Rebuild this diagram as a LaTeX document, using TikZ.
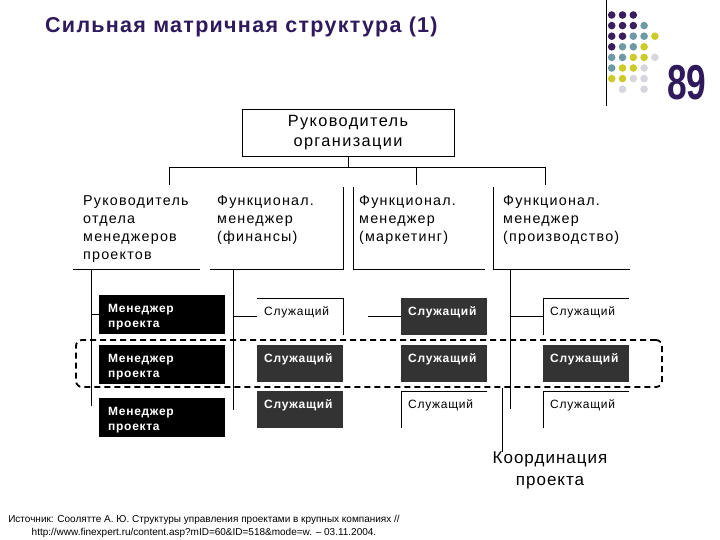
\documentclass[tikz,border=0pt]{standalone}
\usepackage{fontspec}
\usepackage{graphicx}
\setmainfont{Liberation Sans}
\newfontfamily\slidefont[LetterSpace=6]{Liberation Sans}
\newfontfamily\widefont[LetterSpace=8.5]{Liberation Sans}
\usetikzlibrary{positioning}

\definecolor{slideviolet}{HTML}{2E1A5C}
\definecolor{cellgrey}{HTML}{333333}
\definecolor{dotV}{HTML}{3A1E5E}
\definecolor{dotT}{HTML}{6E9AA8}
\definecolor{dotY}{HTML}{CDCB2A}
\definecolor{dotG}{HTML}{D6D6DE}
\definecolor{dotN}{HTML}{FFFFFF}

\tikzset{
		wire/.style     = {line width=0.8pt},
		headbox/.style  = {draw, line width=0.8pt, inner sep=0pt, align=center,
				minimum width=212pt, minimum height=47pt,
				font=\widefont\fontsize{16.3}{20}\selectfont},
		post/.style     = {anchor=north west, inner sep=0pt, align=left,
				font=\widefont\fontsize{14.3}{18.3}\selectfont},
		cell/.style     = {anchor=north west, inner sep=0pt,
				minimum width=86pt, minimum height=37pt},
		cellnote/.style = {anchor=north west, inner sep=0pt, align=left,
				xshift=7pt, yshift=-8.7pt,
				font=\slidefont\fontsize{12}{15}\selectfont},
		pm/.style       = {cell, fill=black, minimum width=126pt, minimum height=39pt,
				label={[cellnote, xshift=2pt, text=white,
						font=\slidefont\bfseries\fontsize{12}{15}\selectfont]north west:Менеджер\\проекта}},
		busy/.style     = {cell, fill=cellgrey,
				label={[cellnote, text=white,
						font=\slidefont\bfseries\fontsize{12}{15}\selectfont]north west:Служащий}},
		free/.style     = {cell, label={[cellnote]north west:Служащий}},
		focus/.style    = {draw, line width=1.8pt, dash pattern=on 6pt off 4pt,
				rounded corners=6pt, inner sep=0pt,
				minimum width=586pt, minimum height=47pt},
		note/.style     = {align=center, inner sep=0pt,
				font=\slidefont\fontsize{17}{22}\selectfont}
	}

\begin{document}
\begin{tikzpicture}[x=1pt, y=-1pt]
		\fill[white] (0,0) rectangle (720,540);
		\useasboundingbox (0,0) rectangle (720,540);

		% slide header
		\node[anchor=base west, inner sep=0pt, text=slideviolet,
			font=\slidefont\bfseries\fontsize{21.5}{24}\selectfont] (title) at (45,33) {Сильная матричная структура (1)};
		\draw[line width=0.9pt] (606,0) -- (606,106);
		\foreach \pat [count=\r from 0] in {{V,V,V,N,N},{V,V,V,T,N},{V,V,T,T,Y},{V,T,T,Y,N},
				{T,T,Y,Y,G},{T,Y,Y,G,N},{Y,Y,G,G,N},{N,G,N,G,N}}
			\foreach \c [count=\k from 0] in \pat
				\fill[dot\c] (611.7+10.8*\k, 15+10.6*\r) circle (3.8pt);
		\node[anchor=base west, inner sep=0pt, text=slideviolet] (pageno) at (667,100)
			{\scalebox{0.72}[1]{\fontsize{49}{49}\selectfont\bfseries 89}};

		% head and functional managers
		\node[headbox] (boss) at (348,132.5) {Руководитель\\организации};
		\node[post] (hd1) at (83,195) {Руководитель\\отдела\\менеджеров\\проектов};
		\node[post] (hd2) at (217,195) {Функционал.\\менеджер\\(финансы)};
		\node[post] (hd3) at (359,195) {Функционал.\\менеджер\\(маркетинг)};
		\node[post] (hd4) at (503,195) {Функционал.\\менеджер\\(производство)};

		\coordinate (bus) at (345,167);
		\coordinate (drop1) at (169,185);
		\coordinate (drop3) at (416,185);
		\coordinate (drop4) at (545,185);
		\draw[wire] (boss.south) -- (boss.south |- bus);
		\draw[wire] (drop1) -- (drop1 |- bus) -- (drop4 |- bus) -- (drop4);
		\draw[wire] (drop3) -- (drop3 |- bus);

		% column frames
		\draw[wire] (73,269) -- (200,269);
		\draw[wire] (210,269) -- (343,269) -- (343,187);
		\draw[wire] (353,187) -- (353,269) -- (485,269);
		\draw[wire] (493,187) -- (493,269) -- (630,269);

		% project managers and staff
		\node[pm] (pm1) at (99,295) {};
		\node[pm] (pm2) at (99,345) {};
		\node[pm] (pm3) at (99,398) {};

		\node[free] (e12) at (257,298) {};
		\node[busy] (e13) at (401,298) {};
		\node[free] (e14) at (543,298) {};
		\node[busy] (e22) at (257,345) {};
		\node[busy] (e23) at (401,345) {};
		\node[busy] (e24) at (543,345) {};
		\node[busy] (e32) at (257,391) {};
		\node[free] (e33) at (401,391) {};
		\node[free] (e34) at (543,391) {};

		\draw[wire] (e12.north west) -- (e12.north east) -- (e12.south east);
		\draw[wire] (e14.north east) -- (e14.north west) -- (e14.south west);
		\draw[wire] (e33.north east) -- (e33.north west) -- (e33.south west);
		\draw[wire] (e34.north east) -- (e34.north west) -- (e34.south west);

		\coordinate (spine1) at (91,269);
		\coordinate (spine2) at (233,269);
		\coordinate (spine4) at (510,269);
		\draw[wire] (spine1) -- ++(0,137);
		\draw[wire] (spine2) -- ++(0,141);
		\draw[wire] (spine4) -- ++(0,140);
		\draw[wire] (pm1.west) -- (pm1.west -| spine1);
		\draw[wire] (e12.west) -- (e12.west -| spine2);
		\draw[wire] (e13.west) -- ++(-33,0);
		\draw[wire] (e14.west) -- (e14.west -| spine4);

		% project team
		\node[focus] (band) at (369,363.5) {};
		\node[note, anchor=north] (coord) at (550,452) {Координация\\проекта};
		\coordinate (tie) at (502,452);
		\draw[wire] (tie) -- (tie |- band.south);

		% source
		\node[align=center, inner sep=0pt, font=\fontsize{10}{12.5}\selectfont] (src) at (204,526.5)
			{Источник: Соолятте А. Ю. Структуры управления проектами в крупных компаниях //\\
			http://www.finexpert.ru/content.asp?mID=60\&ID=518\&mode=w. -- 03.11.2004.};
	\end{tikzpicture}
\end{document}
